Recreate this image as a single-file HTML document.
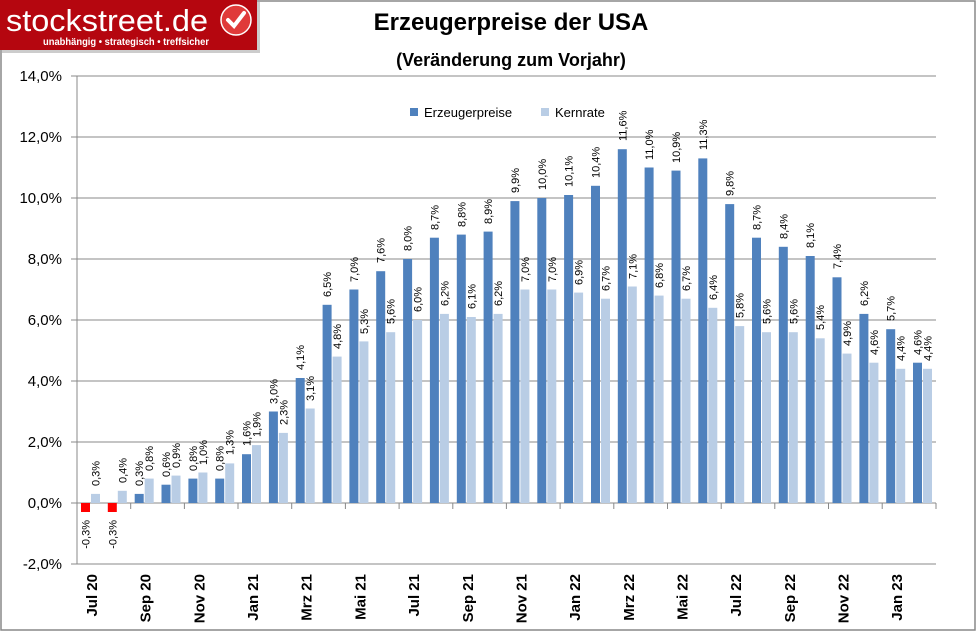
<!DOCTYPE html>
<html><head><meta charset="utf-8"><style>
body{margin:0;background:#fff}
svg{display:block;font-family:"Liberation Sans",Arial,sans-serif}
.v{font-size:11px;fill:#000}
.x{font-size:15px;font-weight:bold;fill:#000}
.y{font-size:15px;fill:#000;text-anchor:end}
.d{fill:#4f81bd}.l{fill:#b9cde5}
</style></head><body>
<svg width="977" height="632" viewBox="0 0 977 632">
<rect x="1" y="1" width="974" height="629" fill="#fff" stroke="#888" stroke-width="1.5"/>
<!-- logo -->
<rect x="2" y="2" width="258" height="51" fill="#999" opacity="0.5"/>
<rect x="0" y="0" width="257" height="50" fill="#b5060f"/>
<text x="6" y="31" font-size="31" fill="#fff" textLength="202" lengthAdjust="spacingAndGlyphs">stockstreet.de</text>
<text x="43" y="45" font-size="10.5" font-weight="bold" fill="#fff" textLength="166" lengthAdjust="spacingAndGlyphs">unabhängig • strategisch • treffsicher</text>
<circle cx="236" cy="20" r="15" fill="#e03a3a" stroke="#fff" stroke-width="1.5"/>
<path d="M228 20 l6 6 l10 -13" stroke="#fff" stroke-width="4" fill="none" stroke-linecap="round"/>
<!-- titles -->
<text x="511" y="30" font-size="24" font-weight="bold" text-anchor="middle">Erzeugerpreise der USA</text>
<text x="511" y="66" font-size="18" font-weight="bold" text-anchor="middle">(Veränderung zum Vorjahr)</text>
<!-- grid -->
<g stroke="#888" stroke-width="1">
<line x1="71" y1="76" x2="936" y2="76"/><line x1="71" y1="137" x2="936" y2="137"/>
<line x1="71" y1="198" x2="936" y2="198"/><line x1="71" y1="259" x2="936" y2="259"/>
<line x1="71" y1="320" x2="936" y2="320"/><line x1="71" y1="381" x2="936" y2="381"/>
<line x1="71" y1="442" x2="936" y2="442"/><line x1="71" y1="503" x2="936" y2="503"/>
<line x1="71" y1="564" x2="936" y2="564"/>
<line x1="77" y1="76" x2="77" y2="564"/>
<line x1="130.7" y1="503" x2="130.7" y2="509"/><line x1="184.4" y1="503" x2="184.4" y2="509"/>
<line x1="238" y1="503" x2="238" y2="509"/><line x1="291.7" y1="503" x2="291.7" y2="509"/>
<line x1="345.4" y1="503" x2="345.4" y2="509"/><line x1="399.1" y1="503" x2="399.1" y2="509"/>
<line x1="452.8" y1="503" x2="452.8" y2="509"/><line x1="506.4" y1="503" x2="506.4" y2="509"/>
<line x1="560.1" y1="503" x2="560.1" y2="509"/><line x1="613.8" y1="503" x2="613.8" y2="509"/>
<line x1="667.5" y1="503" x2="667.5" y2="509"/><line x1="721.2" y1="503" x2="721.2" y2="509"/>
<line x1="774.8" y1="503" x2="774.8" y2="509"/><line x1="828.5" y1="503" x2="828.5" y2="509"/>
<line x1="882.2" y1="503" x2="882.2" y2="509"/><line x1="936" y1="503" x2="936" y2="509"/>
</g>
<g class="y">
<text x="62" y="81">14,0%</text><text x="62" y="142">12,0%</text><text x="62" y="203">10,0%</text>
<text x="62" y="264">8,0%</text><text x="62" y="325">6,0%</text><text x="62" y="386">4,0%</text>
<text x="62" y="447">2,0%</text><text x="62" y="508">0,0%</text><text x="62" y="569">-2,0%</text>
</g>
<!-- legend -->
<rect x="410" y="108" width="8" height="8" class="d"/>
<text x="424" y="117" font-size="13">Erzeugerpreise</text>
<rect x="541" y="108" width="8" height="8" class="l"/>
<text x="555" y="117" font-size="13">Kernrate</text>
<!-- dark bars -->
<g class="d">
<rect x="81" y="503" width="9" height="9" fill="#ff0000"/>
<rect x="107.8" y="503" width="9" height="9" fill="#ff0000"/>
<rect x="134.7" y="493.9" width="9" height="9.1"/>
<rect x="161.5" y="484.7" width="9" height="18.3"/>
<rect x="188.4" y="478.6" width="9" height="24.4"/>
<rect x="215.2" y="478.6" width="9" height="24.4"/>
<rect x="242" y="454.2" width="9" height="48.8"/>
<rect x="268.9" y="411.5" width="9" height="91.5"/>
<rect x="295.7" y="378" width="9" height="125"/>
<rect x="322.6" y="304.8" width="9" height="198.2"/>
<rect x="349.4" y="289.5" width="9" height="213.5"/>
<rect x="376.2" y="271.2" width="9" height="231.8"/>
<rect x="403.1" y="259" width="9" height="244"/>
<rect x="429.9" y="237.7" width="9" height="265.3"/>
<rect x="456.8" y="234.6" width="9" height="268.4"/>
<rect x="483.6" y="231.6" width="9" height="271.4"/>
<rect x="510.4" y="201.1" width="9" height="301.9"/>
<rect x="537.3" y="198" width="9" height="305"/>
<rect x="564.1" y="195" width="9" height="308"/>
<rect x="591" y="185.8" width="9" height="317.2"/>
<rect x="617.8" y="149.2" width="9" height="353.8"/>
<rect x="644.6" y="167.5" width="9" height="335.5"/>
<rect x="671.5" y="170.6" width="9" height="332.4"/>
<rect x="698.3" y="158.4" width="9" height="344.6"/>
<rect x="725.2" y="204.1" width="9" height="298.9"/>
<rect x="752" y="237.7" width="9" height="265.3"/>
<rect x="778.8" y="246.8" width="9" height="256.2"/>
<rect x="805.7" y="256" width="9" height="247"/>
<rect x="832.5" y="277.3" width="9" height="225.7"/>
<rect x="859.4" y="313.9" width="9" height="189.1"/>
<rect x="886.2" y="329.2" width="9" height="173.8"/>
<rect x="913" y="362.7" width="9" height="140.3"/>
</g>
<!-- light bars -->
<g class="l">
<rect x="91" y="493.9" width="9" height="9.1"/>
<rect x="117.8" y="490.8" width="9" height="12.2"/>
<rect x="144.7" y="478.6" width="9" height="24.4"/>
<rect x="171.5" y="475.6" width="9" height="27.4"/>
<rect x="198.4" y="472.5" width="9" height="30.5"/>
<rect x="225.2" y="463.4" width="9" height="39.6"/>
<rect x="252" y="445.1" width="9" height="57.9"/>
<rect x="278.9" y="432.9" width="9" height="70.1"/>
<rect x="305.7" y="408.5" width="9" height="94.5"/>
<rect x="332.6" y="356.6" width="9" height="146.4"/>
<rect x="359.4" y="341.4" width="9" height="161.6"/>
<rect x="386.2" y="332.2" width="9" height="170.8"/>
<rect x="413.1" y="320" width="9" height="183"/>
<rect x="439.9" y="313.9" width="9" height="189.1"/>
<rect x="466.8" y="317" width="9" height="186"/>
<rect x="493.6" y="313.9" width="9" height="189.1"/>
<rect x="520.4" y="289.5" width="9" height="213.5"/>
<rect x="547.3" y="289.5" width="9" height="213.5"/>
<rect x="574.1" y="292.6" width="9" height="210.4"/>
<rect x="601" y="298.7" width="9" height="204.3"/>
<rect x="627.8" y="286.5" width="9" height="216.5"/>
<rect x="654.6" y="295.6" width="9" height="207.4"/>
<rect x="681.5" y="298.7" width="9" height="204.3"/>
<rect x="708.3" y="307.8" width="9" height="195.2"/>
<rect x="735.2" y="326.1" width="9" height="176.9"/>
<rect x="762" y="332.2" width="9" height="170.8"/>
<rect x="788.8" y="332.2" width="9" height="170.8"/>
<rect x="815.7" y="338.3" width="9" height="164.7"/>
<rect x="842.5" y="353.6" width="9" height="149.4"/>
<rect x="869.4" y="362.7" width="9" height="140.3"/>
<rect x="896.2" y="368.8" width="9" height="134.2"/>
<rect x="923" y="368.8" width="9" height="134.2"/>
</g>
<!-- dark labels -->
<g class="v">
<text text-anchor="end" transform="translate(89.5,520) rotate(-90)">-0,3%</text>
<text text-anchor="end" transform="translate(116.3,520) rotate(-90)">-0,3%</text>
<text transform="translate(143.2,486) rotate(-90)">0,3%</text>
<text transform="translate(170,477) rotate(-90)">0,6%</text>
<text transform="translate(196.9,471) rotate(-90)">0,8%</text>
<text transform="translate(223.7,471) rotate(-90)">0,8%</text>
<text transform="translate(250.5,446) rotate(-90)">1,6%</text>
<text transform="translate(277.4,404) rotate(-90)">3,0%</text>
<text transform="translate(304.2,370) rotate(-90)">4,1%</text>
<text transform="translate(331.1,297) rotate(-90)">6,5%</text>
<text transform="translate(357.9,282) rotate(-90)">7,0%</text>
<text transform="translate(384.7,263) rotate(-90)">7,6%</text>
<text transform="translate(411.6,251) rotate(-90)">8,0%</text>
<text transform="translate(438.4,230) rotate(-90)">8,7%</text>
<text transform="translate(465.3,227) rotate(-90)">8,8%</text>
<text transform="translate(492.1,224) rotate(-90)">8,9%</text>
<text transform="translate(518.9,193) rotate(-90)">9,9%</text>
<text transform="translate(545.8,190) rotate(-90)">10,0%</text>
<text transform="translate(572.6,187) rotate(-90)">10,1%</text>
<text transform="translate(599.5,178) rotate(-90)">10,4%</text>
<text transform="translate(626.3,141) rotate(-90)">11,6%</text>
<text transform="translate(653.1,160) rotate(-90)">11,0%</text>
<text transform="translate(680,163) rotate(-90)">10,9%</text>
<text transform="translate(706.8,150) rotate(-90)">11,3%</text>
<text transform="translate(733.7,196) rotate(-90)">9,8%</text>
<text transform="translate(760.5,230) rotate(-90)">8,7%</text>
<text transform="translate(787.3,239) rotate(-90)">8,4%</text>
<text transform="translate(814.2,248) rotate(-90)">8,1%</text>
<text transform="translate(841,269) rotate(-90)">7,4%</text>
<text transform="translate(867.9,306) rotate(-90)">6,2%</text>
<text transform="translate(894.7,321) rotate(-90)">5,7%</text>
<text transform="translate(921.5,355) rotate(-90)">4,6%</text>
</g>
<!-- light labels -->
<g class="v">
<text transform="translate(99.5,486) rotate(-90)">0,3%</text>
<text transform="translate(126.3,483) rotate(-90)">0,4%</text>
<text transform="translate(153.2,471) rotate(-90)">0,8%</text>
<text transform="translate(180,468) rotate(-90)">0,9%</text>
<text transform="translate(206.9,465) rotate(-90)">1,0%</text>
<text transform="translate(233.7,455) rotate(-90)">1,3%</text>
<text transform="translate(260.5,437) rotate(-90)">1,9%</text>
<text transform="translate(287.4,425) rotate(-90)">2,3%</text>
<text transform="translate(314.2,401) rotate(-90)">3,1%</text>
<text transform="translate(341.1,349) rotate(-90)">4,8%</text>
<text transform="translate(367.9,334) rotate(-90)">5,3%</text>
<text transform="translate(394.7,324) rotate(-90)">5,6%</text>
<text transform="translate(421.6,312) rotate(-90)">6,0%</text>
<text transform="translate(448.4,306) rotate(-90)">6,2%</text>
<text transform="translate(475.3,309) rotate(-90)">6,1%</text>
<text transform="translate(502.1,306) rotate(-90)">6,2%</text>
<text transform="translate(528.9,282) rotate(-90)">7,0%</text>
<text transform="translate(555.8,282) rotate(-90)">7,0%</text>
<text transform="translate(582.6,285) rotate(-90)">6,9%</text>
<text transform="translate(609.5,291) rotate(-90)">6,7%</text>
<text transform="translate(636.3,279) rotate(-90)">7,1%</text>
<text transform="translate(663.1,288) rotate(-90)">6,8%</text>
<text transform="translate(690,291) rotate(-90)">6,7%</text>
<text transform="translate(716.8,300) rotate(-90)">6,4%</text>
<text transform="translate(743.7,318) rotate(-90)">5,8%</text>
<text transform="translate(770.5,324) rotate(-90)">5,6%</text>
<text transform="translate(797.3,324) rotate(-90)">5,6%</text>
<text transform="translate(824.2,330) rotate(-90)">5,4%</text>
<text transform="translate(851,346) rotate(-90)">4,9%</text>
<text transform="translate(877.9,355) rotate(-90)">4,6%</text>
<text transform="translate(904.7,361) rotate(-90)">4,4%</text>
<text transform="translate(931.5,361) rotate(-90)">4,4%</text>
</g>
<!-- x labels -->
<g class="x" text-anchor="end">
<text transform="translate(97,574) rotate(-90)">Jul 20</text>
<text transform="translate(150.7,574) rotate(-90)">Sep 20</text>
<text transform="translate(204.4,574) rotate(-90)">Nov 20</text>
<text transform="translate(258,574) rotate(-90)">Jan 21</text>
<text transform="translate(311.7,574) rotate(-90)">Mrz 21</text>
<text transform="translate(365.4,574) rotate(-90)">Mai 21</text>
<text transform="translate(419.1,574) rotate(-90)">Jul 21</text>
<text transform="translate(472.8,574) rotate(-90)">Sep 21</text>
<text transform="translate(526.4,574) rotate(-90)">Nov 21</text>
<text transform="translate(580.1,574) rotate(-90)">Jan 22</text>
<text transform="translate(633.8,574) rotate(-90)">Mrz 22</text>
<text transform="translate(687.5,574) rotate(-90)">Mai 22</text>
<text transform="translate(741.2,574) rotate(-90)">Jul 22</text>
<text transform="translate(794.8,574) rotate(-90)">Sep 22</text>
<text transform="translate(848.5,574) rotate(-90)">Nov 22</text>
<text transform="translate(902.2,574) rotate(-90)">Jan 23</text>
</g>
</svg>
</body></html>
